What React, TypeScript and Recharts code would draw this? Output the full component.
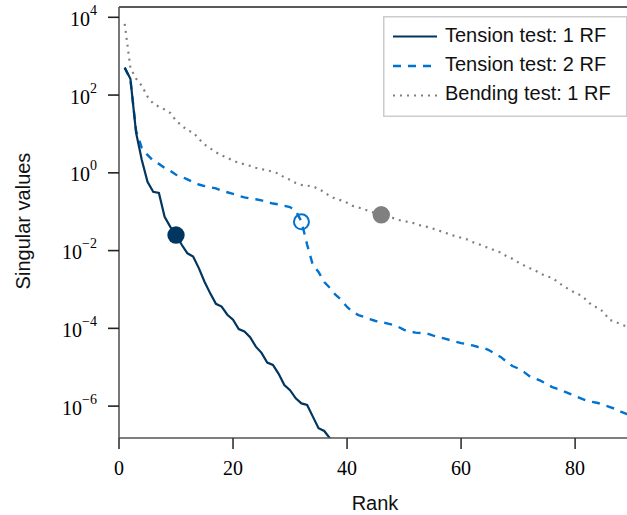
import React from 'react';
import {
  LineChart, Line, XAxis, YAxis, Legend, ReferenceDot, ReferenceLine, Label
} from 'recharts';

// log10 of the singular values, rank = index + 1
const tension1Exp = [
  2.71, 2.42, 1.03, 0.33, -0.23, -0.49, -0.52, -1.13, -1.39, -1.6,
  -1.85, -2.07, -2.15, -2.45, -2.8, -3.1, -3.37, -3.44, -3.65, -3.78,
  -4.02, -4.08, -4.23, -4.47, -4.63, -4.88, -4.94, -5.17, -5.46, -5.59,
  -5.8, -5.93, -5.97, -6.27, -6.57, -6.64, -6.83, -7.1,
];

const tension2Exp = [
  2.7, 2.4, 1.08, 0.64, 0.46, 0.31, 0.23, 0.13, 0.05, -0.05,
  -0.1, -0.17, -0.24, -0.3, -0.34, -0.37, -0.4, -0.46, -0.5, -0.54,
  -0.59, -0.63, -0.66, -0.68, -0.71, -0.75, -0.79, -0.81, -0.85, -0.88,
  -0.98, -1.25, -1.85, -2.37, -2.55, -2.81, -2.96, -3.14, -3.27, -3.45,
  -3.58, -3.66, -3.71, -3.76, -3.81, -3.84, -3.87, -3.91, -3.96, -4.04,
  -4.08, -4.11, -4.12, -4.13, -4.18, -4.22, -4.26, -4.3, -4.34, -4.38,
  -4.4, -4.44, -4.48, -4.5, -4.57, -4.66, -4.74, -4.86, -4.97, -5.03,
  -5.12, -5.23, -5.29, -5.35, -5.43, -5.51, -5.56, -5.62, -5.68, -5.74,
  -5.8, -5.86, -5.89, -5.92, -5.97, -6.02, -6.07, -6.14, -6.2, -6.25,
];

const bendingExp = [
  3.83, 2.7, 2.42, 2.24, 1.96, 1.78, 1.7, 1.63, 1.54, 1.34,
  1.22, 1.09, 1.04, 0.875, 0.73, 0.63, 0.53, 0.45, 0.39, 0.31,
  0.26, 0.22, 0.18, 0.13, 0.095, 0.064, 0.026, -0.02, -0.12, -0.18,
  -0.26, -0.31, -0.33, -0.35, -0.41, -0.5, -0.6, -0.67, -0.71, -0.77,
  -0.85, -0.89, -0.94, -0.99, -1.04, -1.08, -1.13, -1.16, -1.21, -1.25,
  -1.26, -1.31, -1.36, -1.39, -1.43, -1.48, -1.53, -1.58, -1.63, -1.67,
  -1.71, -1.78, -1.83, -1.89, -1.94, -2.0, -2.05, -2.15, -2.21, -2.3,
  -2.38, -2.45, -2.51, -2.6, -2.66, -2.7, -2.81, -2.92, -3.0, -3.09,
  -3.15, -3.27, -3.42, -3.47, -3.58, -3.78, -3.83, -3.89, -3.95, -4.0,
];

// highlighted points: [rank, log10 value]
const markT1 = [10, -1.6];
const markT2 = [32, -1.26];
const markB = [46, -1.08];

const xTicks = [0, 20, 40, 60, 80];
const yTickExp = [-6, -4, -2, 0, 2, 4];

const NAVY = '#00365f';
const BLUE = '#0072cf';
const GRAY = '#808080';

const Y_MIN = Math.pow(10, -6.82);
const Y_MAX = Math.pow(10, 4.265);

const n = Math.max(tension1Exp.length, tension2Exp.length, bendingExp.length);
const data = Array.from({ length: n }, (_, i) => ({
  rank: i + 1,
  t1: tension1Exp[i] !== undefined ? Math.pow(10, tension1Exp[i]) : null,
  t2: tension2Exp[i] !== undefined ? Math.pow(10, tension2Exp[i]) : null,
  bend: bendingExp[i] !== undefined ? Math.pow(10, bendingExp[i]) : null,
}));

const serif = 'Liberation Serif, Times New Roman, serif';
const sans = 'Liberation Sans, Arial, sans-serif';

const YTick = (props: any) => {
  const { y, payload } = props;
  const e = Math.round(Math.log10(payload.value));
  return (
    <text x={97} y={y + 8.5} textAnchor="end" fontFamily={serif} fontSize={20} fill="#000">
      <tspan>10</tspan>
      <tspan dy={-11} fontSize={14}>{e < 0 ? '\u2212' + Math.abs(e) : String(e)}</tspan>
    </text>
  );
};

const XTick = (props: any) => {
  const { x, payload } = props;
  return (
    <text x={x} y={475} textAnchor="middle" fontFamily={serif} fontSize={20} fill="#000">
      {payload.value}
    </text>
  );
};

const legendItems = [
  { label: 'Tension test: 1 RF', color: NAVY, dash: undefined, width: 2.2 },
  { label: 'Tension test: 2 RF', color: BLUE, dash: '8 7', width: 2.4 },
  { label: 'Bending test: 1 RF', color: GRAY, dash: '2 5', width: 2 },
];

const renderLegend = () => (
  <svg width={244} height={101} style={{ display: 'block' }}>
    <rect x={0.75} y={0.75} width={243} height={99.5} fill="#fff" stroke="#cccccc" strokeWidth={1.5} />
    {legendItems.map((it, i) => (
      <g key={it.label}>
        <line x1={10} x2={54} y1={20.5 + i * 29.5} y2={20.5 + i * 29.5}
          stroke={it.color} strokeWidth={it.width} strokeDasharray={it.dash} />
        <text x={62} y={25.7 + i * 29.3} fontFamily={sans} fontSize={20} fill="#111">{it.label}</text>
      </g>
    ))}
  </svg>
);

export default function App() {
  return (
    <div style={{ position: 'absolute', left: 0, top: 0 }}>
      <LineChart width={627} height={515} data={data}
        margin={{ top: 7, right: 0, bottom: 0, left: 0 }}>
        <XAxis
          dataKey="rank" type="number" domain={[0, 89.1]} ticks={xTicks}
          allowDataOverflow height={77} tickSize={11} tick={<XTick />}
          stroke="#555" strokeWidth={1.6} tickLine={{ stroke: '#333' }}
        >
          <Label content={() => (
            <text x={375} y={510} textAnchor="middle" fontFamily={sans} fontSize={20} fill="#111">Rank</text>
          )} />
        </XAxis>
        <YAxis
          scale="log" type="number" domain={[Y_MIN, Y_MAX]} allowDataOverflow
          ticks={yTickExp.map((e) => Math.pow(10, e))} width={119} tickSize={11}
          tick={<YTick />} stroke="#555" strokeWidth={1.6} tickLine={{ stroke: '#222' }}
        >
          <Label content={() => (
            <text transform="translate(29.5,221) rotate(-90)" textAnchor="middle"
              fontFamily={sans} fontSize={20} fill="#111">Singular values</text>
          )} />
        </YAxis>
        <ReferenceLine y={Y_MAX} stroke="#222" strokeWidth={1.6} />
        <Line dataKey="bend" stroke={GRAY} strokeWidth={2.2} strokeDasharray="2 5"
          dot={false} activeDot={false} isAnimationActive={false} type="linear" />
        <Line dataKey="t2" stroke={BLUE} strokeWidth={2.4} strokeDasharray="8 7"
          dot={false} activeDot={false} isAnimationActive={false} type="linear" />
        <Line dataKey="t1" stroke={NAVY} strokeWidth={2.2}
          dot={false} activeDot={false} isAnimationActive={false} type="linear" />
        <ReferenceDot x={markT1[0]} y={Math.pow(10, markT1[1])} r={8.7} fill={NAVY} stroke="none" />
        <ReferenceDot x={markT2[0]} y={Math.pow(10, markT2[1])} r={7.5} fill="none" stroke={BLUE} strokeWidth={2} />
        <ReferenceDot x={markB[0]} y={Math.pow(10, markB[1])} r={8.7} fill={GRAY} stroke="none" />
        <Legend layout="vertical" verticalAlign="middle" align="center" content={renderLegend}
          wrapperStyle={{ top: 16, left: 383, width: 244 }} />
      </LineChart>
    </div>
  );
}
